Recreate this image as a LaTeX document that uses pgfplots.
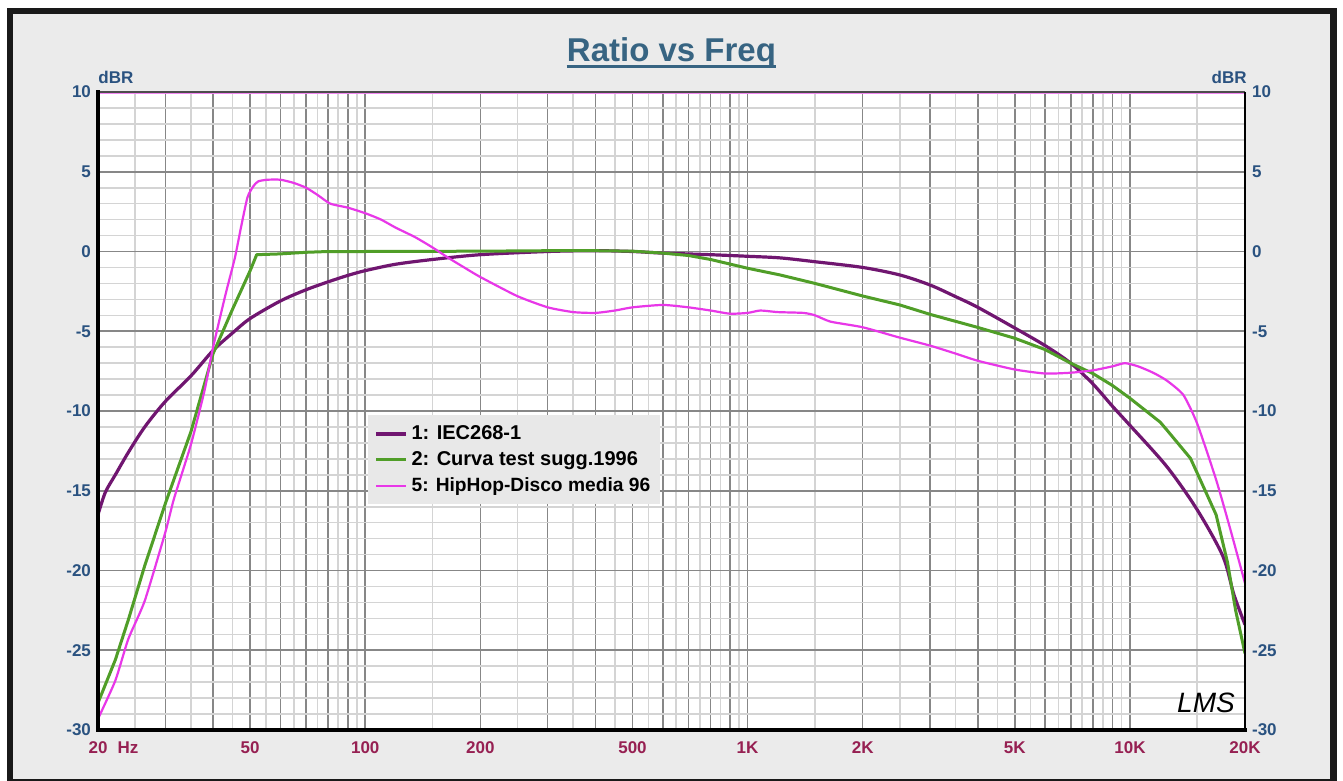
\documentclass[border=0pt]{standalone}
\usepackage{fontspec}
\setmainfont{Liberation Sans}
\usepackage{pgfplots}
\pgfplotsset{compat=1.18}
\usepackage{pgfplotstable}

\definecolor{bgcol}{RGB}{235,235,235}
\definecolor{legbg}{RGB}{232,232,232}
\definecolor{iec}{RGB}{112,22,112}
\definecolor{curva}{RGB}{80,158,40}
\definecolor{hiphop}{RGB}{232,55,232}
\definecolor{ylab}{RGB}{42,82,128}
\definecolor{xlab}{RGB}{150,32,82}
\definecolor{titlecol}{RGB}{55,100,130}
\definecolor{gridmaj}{RGB}{135,135,135}
\definecolor{gridmin}{RGB}{212,212,212}

\pgfplotstableread{
f v
20 -16.5
20.9 -15.1
22.2 -14.0
24 -12.6
26.5 -11.0
30 -9.4
35 -7.8
40 -6.2
45 -5.1
50 -4.2
60 -3.1
70 -2.4
80 -1.9
90 -1.5
100 -1.2
120 -0.8
150 -0.5
200 -0.2
300 0.0
400 0.05
500 0.0
600 -0.1
800 -0.2
1000 -0.3
1216 -0.4
1500 -0.64
2000 -1.0
2500 -1.47
3000 -2.1
3500 -2.83
4000 -3.5
5000 -4.8
6000 -5.9
7000 -7.0
8000 -8.3
9000 -9.7
10000 -10.9
12500 -13.5
15000 -16.2
17500 -19.1
18700 -21.5
20000 -23.4
}\iecdata

\pgfplotstableread{
f v
20 -28.3
22.2 -25.6
24 -23.1
26.5 -19.7
30 -15.8
35 -11.3
40 -6.4
45 -3.6
50 -1.2
52 -0.2
60 -0.15
70 -0.05
80 0
100 0
200 0.02
300 0.05
400 0.05
500 0.02
600 -0.1
700 -0.25
800 -0.5
1000 -1.05
1216 -1.47
1500 -2.0
2000 -2.79
2500 -3.35
3000 -3.94
4000 -4.76
5000 -5.44
6000 -6.15
7000 -7.0
8000 -7.65
9000 -8.4
10000 -9.2
12000 -10.7
12500 -11.2
14400 -12.97
15000 -13.9
16800 -16.5
18000 -19.5
18900 -22.5
20000 -25.2
}\curvadata

\pgfplotstableread{
f v
20 -29.3
22.2 -26.9
24 -24.3
26.5 -21.9
30 -17.6
31.6 -15.5
35 -12.1
38 -8.7
40 -6.0
43.1 -2.7
45.6 -0.4
47.3 1.5
49.2 3.4
51 4.1
52.5 4.4
55.5 4.5
60 4.5
65 4.3
70 4.0
75 3.55
81 3.0
90 2.75
100 2.4
110 2.0
120 1.5
135 0.9
150 0.25
165 -0.4
180 -0.95
200 -1.6
250 -2.8
300 -3.5
350 -3.8
400 -3.85
450 -3.7
500 -3.5
600 -3.35
700 -3.5
800 -3.7
900 -3.9
1000 -3.85
1080 -3.7
1200 -3.8
1400 -3.85
1500 -4.0
1650 -4.4
2000 -4.75
2500 -5.4
3000 -5.9
3500 -6.4
4000 -6.85
5000 -7.4
6000 -7.65
7000 -7.6
8000 -7.45
9000 -7.2
9700 -7.0
10500 -7.2
11500 -7.6
12500 -8.1
13800 -9.0
15000 -10.8
16800 -14.3
18300 -17.4
20000 -20.8
}\hiphopdata

\begin{document}
\begin{tikzpicture}
% page background and frame (1 px = 0.5 pt, axis origin at pixel 98,730)
\fill[white] (-49pt,365pt) rectangle (622.5pt,-25.5pt);
\fill[black!90] (-45.5pt,361pt) rectangle (619.5pt,-25.5pt);
\fill[bgcol] (-42.5pt,358pt) rectangle (616pt,-24.5pt);

\begin{axis}[
  at={(0,0)}, anchor=south west,
  scale only axis, width=573.5pt, height=319pt,
  xmode=log, xmin=20, xmax=20000, ymin=-30, ymax=10,
  clip mode=individual,
  axis background/.style={fill=white},
  axis line style={draw=none},
  major tick length=0pt, minor tick length=0pt,
  xtick={20,30,40,50,60,70,80,90,100,200,300,400,500,600,700,800,900,1000,2000,3000,4000,5000,6000,7000,8000,9000,10000,20000},
  xticklabels={},
  minor xtick={25,35,45,55,65,75,85,95,150,250,350,450,550,650,750,850,950,1500,2500,3500,4500,5500,6500,7500,8500,9500,15000},
  extra x ticks={20,50,100,200,500,1000,2000,5000,10000,20000},
  extra x tick labels={20\rlap{\hspace{0.6em}Hz},50,100,200,500,1K,2K,5K,10K,20K},
  extra x tick style={grid=none, major tick length=0pt,
     tick label style={font=\bfseries\fontsize{8.5}{10}\selectfont, text=xlab, yshift=-2.2pt}},
  ytick={-30,-25,-20,-15,-10,-5,0,5,10},
  yticklabels={-30,-25,-20,-15,-10,-5,0,5,10},
  minor y tick num=4,
  yticklabel pos=left,
  y tick label style={font=\bfseries\fontsize{8.5}{10}\selectfont, text=ylab},
  grid=both,
  major grid style={draw=gridmaj, line width=0.8pt},
  minor grid style={draw=gridmin, line width=0.8pt},
  legend style={at={(0.2354,0.4937)}, anchor=north west, fill=legbg, draw=none,
     font=\bfseries\fontsize{10}{12}\selectfont, inner xsep=3pt, inner ysep=3pt,
     row sep=0.5pt},
  legend cell align=left,
  legend image code/.code={\draw[#1] (0pt,0pt) -- (15pt,0pt);},
]
\addplot[iec, line width=1.6pt, line join=round, smooth, tension=0.5] table[x=f,y=v] {\iecdata};
\addlegendentry{1: IEC268-1}
\addplot[curva, line width=1.5pt, line join=round] table[x=f,y=v] {\curvadata};
\addlegendentry{2: Curva test sugg.1996}
\addplot[hiphop, line width=1.1pt, line join=round, smooth, tension=0.35] table[x=f,y=v] {\hiphopdata};
\addlegendentry{\fontsize{9.6}{12}\selectfont 5: HipHop-Disco media 96}

% axis frame
\draw[gray!60!black, line width=1pt] (rel axis cs:0,1) -- (rel axis cs:1,1);
\draw[hiphop!60, line width=0.5pt] ([yshift=-0.7pt]rel axis cs:0,1) -- ([yshift=-0.7pt]rel axis cs:1,1);
\draw[black, line width=1.2pt] (rel axis cs:1,0) -- (rel axis cs:1,1);
\draw[black, line width=1.6pt, line cap=rect] (rel axis cs:0,1) -- (rel axis cs:0,0) -- (rel axis cs:1,0);

% title and unit labels
\node[anchor=base, font=\bfseries\fontsize{16.5}{18}\selectfont, text=titlecol, inner sep=0pt] (T)
  at ([yshift=15.5pt]rel axis cs:0.5,1) {Ratio vs Freq};
\draw[titlecol, line width=1.5pt] ([yshift=-2.8pt]T.base west) -- ([yshift=-2.8pt]T.base east);
\node[anchor=base west, inner sep=0pt, font=\bfseries\fontsize{8.5}{10}\selectfont, text=ylab]
  at ([yshift=4.5pt]rel axis cs:0,1) {dBR};
\node[anchor=base east, inner sep=0pt, font=\bfseries\fontsize{8.5}{10}\selectfont, text=ylab]
  at ([yshift=4.5pt, xshift=1pt]rel axis cs:1,1) {dBR};
\node[font=\itshape\fontsize{14}{14}\selectfont, text=black] at (rel axis cs:0.966,0.042) {LMS};
\end{axis}

% right-hand y tick labels
\begin{axis}[
  at={(0,0)}, anchor=south west,
  scale only axis, width=573.5pt, height=319pt,
  xmin=0, xmax=1, ymin=-30, ymax=10,
  axis x line=none, axis y line*=right,
  y axis line style={draw=none},
  major tick length=0pt,
  ytick={-30,-25,-20,-15,-10,-5,0,5,10},
  yticklabels={-30,-25,-20,-15,-10,-5,0,5,10},
  y tick label style={font=\bfseries\fontsize{8.5}{10}\selectfont, text=ylab},
]
\end{axis}
\end{tikzpicture}
\end{document}
